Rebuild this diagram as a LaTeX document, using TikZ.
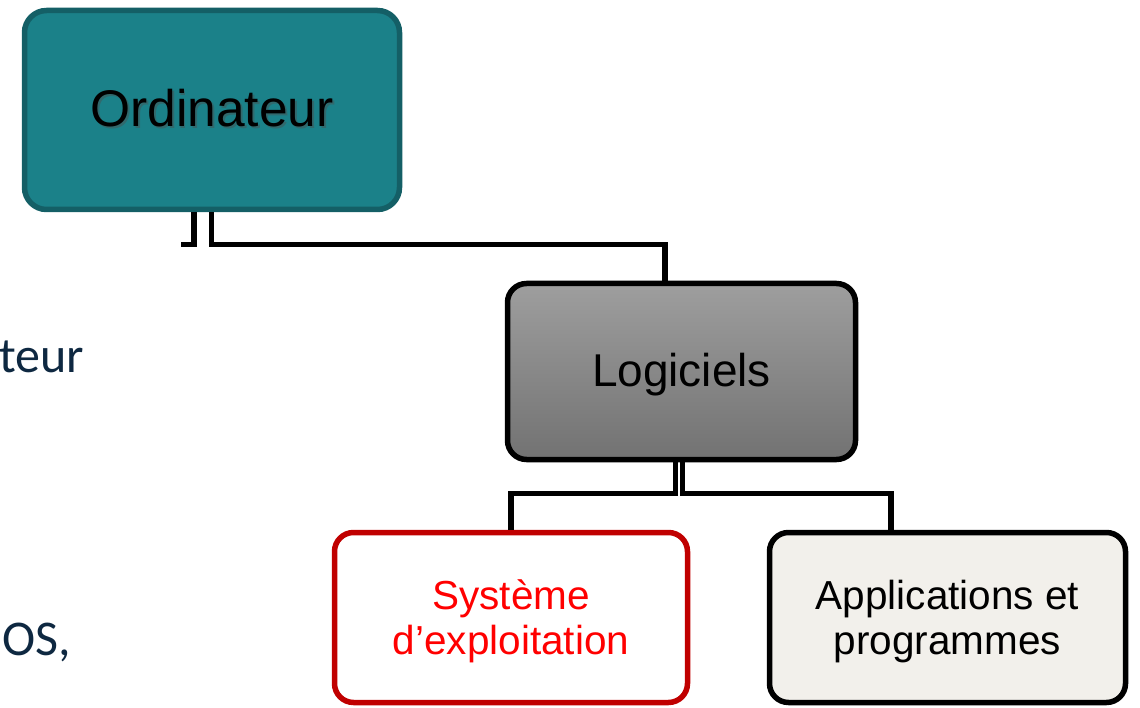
\documentclass[tikz,border=0pt]{standalone}
\usepackage{fontspec}
\setmainfont{Liberation Sans}
\newfontfamily\bodyfont{Carlito}
\usetikzlibrary{calc}

\definecolor{tealfill}{HTML}{1B8189}
\definecolor{tealedge}{HTML}{145F66}
\definecolor{greytop}{HTML}{9E9E9E}
\definecolor{greybot}{HTML}{727272}
\definecolor{osred}{HTML}{C00000}
\definecolor{ostext}{HTML}{FF0000}
\definecolor{appfill}{HTML}{F2F0EB}
\definecolor{navy}{HTML}{0E2841}

\tikzset{
  box/.style={draw, line width=5.5pt, rounded corners=19pt, inner sep=0pt},
  boxtext/.style={align=center, inner sep=0pt, text=black},
  link/.style={draw=black, line width=5.5pt},
  sidetext/.style={font=\bodyfont\fontsize{50}{54}\selectfont, text=navy,
    inner sep=0pt, anchor=base east},
}

\begin{document}
\begin{tikzpicture}[x=1pt, y=-1pt]
  \useasboundingbox (0,0) rectangle (1140,708);

  % text of the slide behind, cut by the left edge
  \node[sidetext] (t1) at (84,372) {teur};
  \node[sidetext] (t2) at (71,655) {OS,};

  % boxes of the hierarchy
  \node[box, draw=tealedge, fill=tealfill, rounded corners=22pt,
        minimum width=375pt, minimum height=199pt] (ord) at (212,110) {};
  \node[boxtext, text=black!70, opacity=0.45, font=\fontsize{51.5}{55}\selectfont]
        at (213.8,109.8) {Ordinateur};
  \node[boxtext, font=\fontsize{51.5}{55}\selectfont] (ordlabel) at (212,108) {Ordinateur};

  \node[box, draw=black, top color=greytop, bottom color=greybot,
        minimum width=348pt, minimum height=176pt] (log) at (681.5,371.5) {};
  \node[boxtext, font=\fontsize{46}{50}\selectfont] (loglabel)
        at ($(log.center)+(0,3)$) {Logiciels};

  \node[box, draw=osred, fill=white,
        minimum width=353pt, minimum height=170pt] (sys) at (511,617.5) {};
  \node[boxtext, text=ostext, font=\fontsize{40.5}{45}\selectfont] (syslabel)
        at ($(sys.center)+(0,4)$) {Système\\d’exploitation};

  \node[box, draw=black, fill=appfill,
        minimum width=356pt, minimum height=170pt] (app) at (947.5,617.5) {};
  \node[boxtext, font=\fontsize{40.5}{45}\selectfont] (applabel)
        at ($(app.center)+(0,4)$) {Applications et\\programmes};

  % connectors
  \coordinate (stub) at ($(ord.south)+(-31,32.5)$);
  \draw[link] ($(ord.south)+(-18,0)$) |- (stub);
  \draw[link] ($(ord.south)+(-0.5,0)$) -- ++(0,32.5) -| ($(log.north)+(-16.5,0)$);

  \draw[link] ($(log.south)+(-6,0)$) -- ++(0,31) -| (sys.north);
  \draw[link] ($(log.south)+(1,0)$) -- ++(0,31) -| ($(app.north)+(-56.5,0)$);
\end{tikzpicture}
\end{document}
